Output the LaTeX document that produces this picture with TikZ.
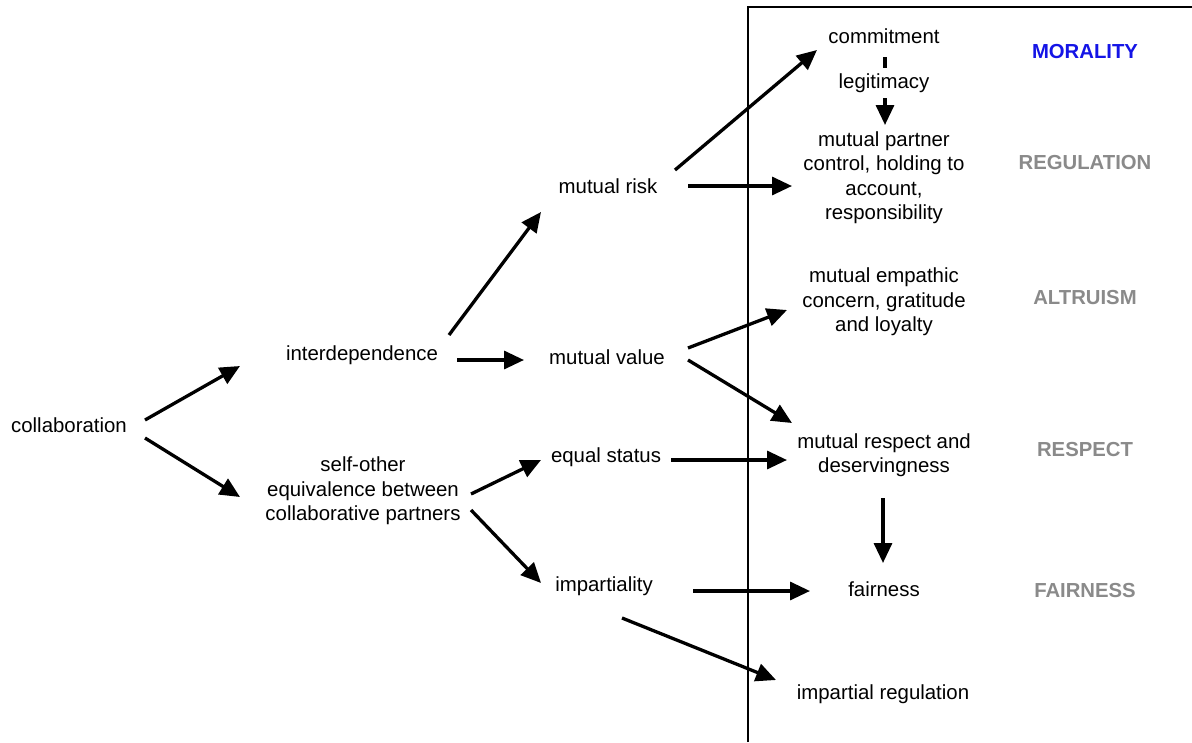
\documentclass[tikz,border=0pt]{standalone}
\usepackage{fontspec}
\setmainfont{Liberation Sans}
\usetikzlibrary{arrows.meta}
\definecolor{levelgrey}{HTML}{8A8A8A}
\definecolor{levelblue}{HTML}{1414E6}
\begin{document}
\begin{tikzpicture}[x=1pt,y=-1pt,
  concept/.style={align=center,inner sep=0pt,font=\fontsize{20.4}{24.5}\selectfont},
  level/.style={inner sep=0pt,font=\fontsize{20.3}{24}\selectfont\bfseries,text=levelgrey},
  link/.style={line width=3.3pt,-{Triangle[length=20pt,width=18pt]}},
  plain/.style={line width=4pt}]
\useasboundingbox (0,0) rectangle (1192,742);

% frame around the moral outcomes
\draw[line width=1.3pt] (748,742) -- (748,7) -- (1192,7);

% concepts
\node[concept] (collab) at (69,425) {collaboration};
\node[concept] (interdep) at (362,355) {interdependence};
\node[concept] (selfother) at (363,491) {self-other\\equivalence between\\collaborative partners};
\node[concept] (risk) at (608,186) {mutual risk};
\node[concept] (value) at (607,357) {mutual value};
\node[concept] (status) at (606,457) {equal status};
\node[concept] (impart) at (604,586) {impartiality};
\node[concept] (commit) at (884,36) {commitment};
\node[concept] (legit) at (884,83) {legitimacy};
\node[concept] (control) at (884,177.5) {mutual partner\\control, holding to\\account,\\responsibility};
\node[concept] (empathy) at (884,302) {mutual empathic\\concern, gratitude\\and loyalty};
\node[concept] (respect) at (884,455) {mutual respect and\\deservingness};
\node[concept] (fair) at (884,589) {fairness};
\node[concept] (impreg) at (883,694) {impartial regulation};

% levels
\node[level,text=levelblue] (lmor) at (1085,52) {MORALITY};
\node[level] (lreg) at (1085,163) {REGULATION};
\node[level] (lalt) at (1085,298) {ALTRUISM};
\node[level] (lres) at (1085,450) {RESPECT};
\node[level] (lfai) at (1085,591) {FAIRNESS};

% connectors
\draw[link] ([shift={(76,-5)}]collab.center) -- ([shift={(-122,11)}]interdep.center);
\draw[link] ([shift={(76,13)}]collab.center) -- ([shift={(-123,6)}]selfother.center);
\draw[link] ([shift={(87,-20)}]interdep.center) -- ([shift={(-67,26)}]risk.center);
\draw[link] ([shift={(95,5)}]interdep.center) -- ([shift={(-83,3)}]value.center);
\draw[link] ([shift={(67,-16)}]risk.center) -- ([shift={(-67,14)}]commit.center);
\draw[link] ([shift={(80,0)}]risk.center) -- ([shift={(-92,8.5)}]control.center);
\draw[link] ([shift={(81,-9)}]value.center) -- ([shift={(-97,8)}]empathy.center);
\draw[link] ([shift={(81,3)}]value.center) -- ([shift={(-92,-32)}]respect.center);
\draw[link] ([shift={(108,3)}]selfother.center) -- ([shift={(-65,3)}]status.center);
\draw[link] ([shift={(108,19)}]selfother.center) -- ([shift={(-63,-3)}]impart.center);
\draw[link] ([shift={(65,3)}]status.center) -- ([shift={(-97,5)}]respect.center);
\draw[link] ([shift={(-1,43)}]respect.center) -- ([shift={(-1,-26)}]fair.center);
\draw[link] ([shift={(89,5)}]impart.center) -- ([shift={(-74,2)}]fair.center);
\draw[link] ([shift={(18,32)}]impart.center) -- ([shift={(-107,-14)}]impreg.center);
\draw[plain] ([shift={(1,21)}]commit.center) -- ([shift={(1,-15)}]legit.center);
\draw[link] ([shift={(1,15)}]legit.center) -- ([shift={(1,-52.5)}]control.center);
\end{tikzpicture}
\end{document}
